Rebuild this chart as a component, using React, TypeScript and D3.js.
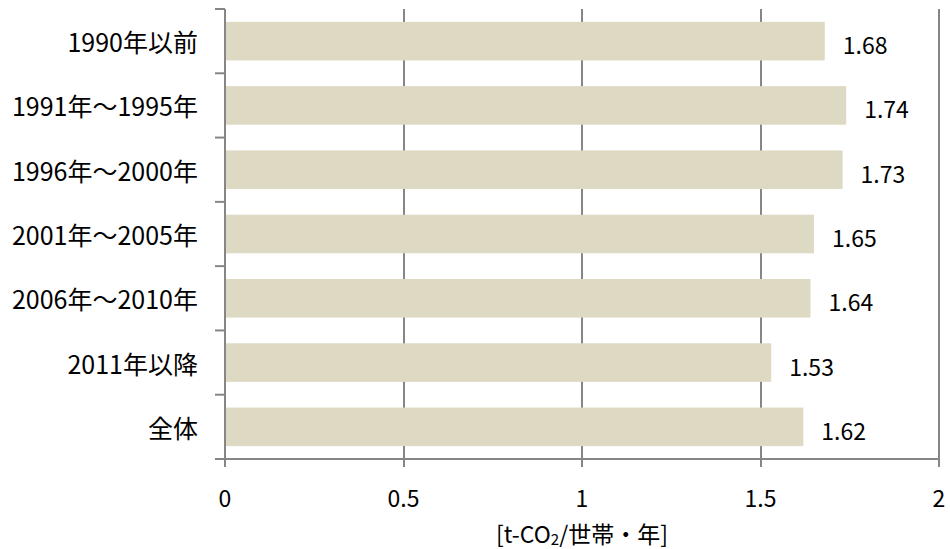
import { useEffect, useRef } from 'react';
import * as d3 from 'd3';

const categories = [
  '1990年以前',
  '1991年～1995年',
  '1996年～2000年',
  '2001年～2005年',
  '2006年～2010年',
  '2011年以降',
  '全体',
];
const values = [1.68, 1.74, 1.73, 1.65, 1.64, 1.53, 1.62];
const xTicks = [0, 0.5, 1, 1.5, 2];

export default function App() {
  const svgRef = useRef<SVGSVGElement>(null);

  useEffect(() => {
    if (!svgRef.current) return;
    const svg = d3.select(svgRef.current);
    svg.selectAll('*').remove();

    const width = 950;
    const height = 549;
    const font = '"Noto Sans CJK JP", "Noto Sans", sans-serif';
    const fontSize = 23;
    const axisColor = '#868686';

    svg.attr('width', width).attr('height', height);

    const x = d3.scaleLinear().domain([0, 2]).range([225, 939]);
    const y = d3.scaleBand<string>()
      .domain(categories)
      .range([9, 459])
      .paddingInner(0.4)
      .paddingOuter(0.2);

    // gridlines
    svg.append('g')
      .selectAll('line')
      .data(xTicks.filter(t => t > 0))
      .enter()
      .append('line')
      .attr('x1', d => Math.round(x(d)))
      .attr('x2', d => Math.round(x(d)))
      .attr('y1', y.range()[0])
      .attr('y2', y.range()[1])
      .attr('stroke', axisColor)
      .attr('stroke-width', 2);

    // bars
    svg.append('g')
      .selectAll('rect')
      .data(values)
      .enter()
      .append('rect')
      .attr('x', x(0))
      .attr('y', (d, i) => y(categories[i])!)
      .attr('width', d => x(d) - x(0))
      .attr('height', y.bandwidth())
      .attr('fill', '#DDD9C3');

    // value labels
    svg.append('g')
      .selectAll('text')
      .data(values)
      .enter()
      .append('text')
      .attr('x', d => x(d) + 18)
      .attr('y', (d, i) => y(categories[i])! + y.bandwidth() / 2 + 3)
      .attr('dominant-baseline', 'central')
      .style('font-family', font)
      .style('font-size', `${fontSize}px`)
      .attr('fill', '#000')
      .text(d => d.toFixed(2));

    // left axis
    const left = svg.append('g');
    left.append('line')
      .attr('x1', x(0)).attr('x2', x(0))
      .attr('y1', y.range()[0]).attr('y2', y.range()[1])
      .attr('stroke', axisColor).attr('stroke-width', 2);
    const step = y.step();
    const boundaries = d3.range(categories.length + 1).map(i => y.range()[0] + i * step);
    left.selectAll('line.tick')
      .data(boundaries)
      .enter()
      .append('line')
      .attr('class', 'tick')
      .attr('x1', x(0) - 10).attr('x2', x(0))
      .attr('y1', d => d).attr('y2', d => d)
      .attr('stroke', axisColor).attr('stroke-width', 2);
    left.selectAll('text')
      .data(categories)
      .enter()
      .append('text')
      .attr('x', 198)
      .attr('y', d => y(d)! + y.bandwidth() / 2)
      .attr('text-anchor', 'end')
      .attr('dominant-baseline', 'central')
      .style('font-family', font)
      .style('font-size', '25px')
      .attr('fill', '#000')
      .text(d => d);

    // bottom axis
    const bottom = svg.append('g');
    bottom.append('line')
      .attr('x1', x(0) - 10).attr('x2', x(2))
      .attr('y1', y.range()[1]).attr('y2', y.range()[1])
      .attr('stroke', axisColor).attr('stroke-width', 2);
    bottom.selectAll('line.tick')
      .data(xTicks)
      .enter()
      .append('line')
      .attr('class', 'tick')
      .attr('x1', d => Math.round(x(d))).attr('x2', d => Math.round(x(d)))
      .attr('y1', y.range()[1]).attr('y2', y.range()[1] + 8)
      .attr('stroke', axisColor).attr('stroke-width', 2);
    bottom.selectAll('text')
      .data(xTicks)
      .enter()
      .append('text')
      .attr('x', d => x(d))
      .attr('y', 497)
      .attr('text-anchor', 'middle')
      .attr('dominant-baseline', 'central')
      .style('font-family', font)
      .style('font-size', `${fontSize}px`)
      .attr('fill', '#000')
      .text(d => String(d));

    // axis title
    const title = svg.append('text')
      .attr('x', (x(0) + x(2)) / 2)
      .attr('y', 533)
      .attr('text-anchor', 'middle')
      .attr('dominant-baseline', 'central')
      .style('font-family', font)
      .style('font-size', `${fontSize}px`)
      .attr('fill', '#000');
    title.append('tspan').text('[t-CO');
    title.append('tspan').attr('dy', 5).style('font-size', '15px').text('2');
    title.append('tspan').attr('dy', -5).text('/世帯・年]');
  }, []);

  return (
    <div style={{ position: 'absolute', left: 0, top: 0 }}>
      <svg ref={svgRef} style={{ display: 'block', background: '#fff' }} />
    </div>
  );
}
